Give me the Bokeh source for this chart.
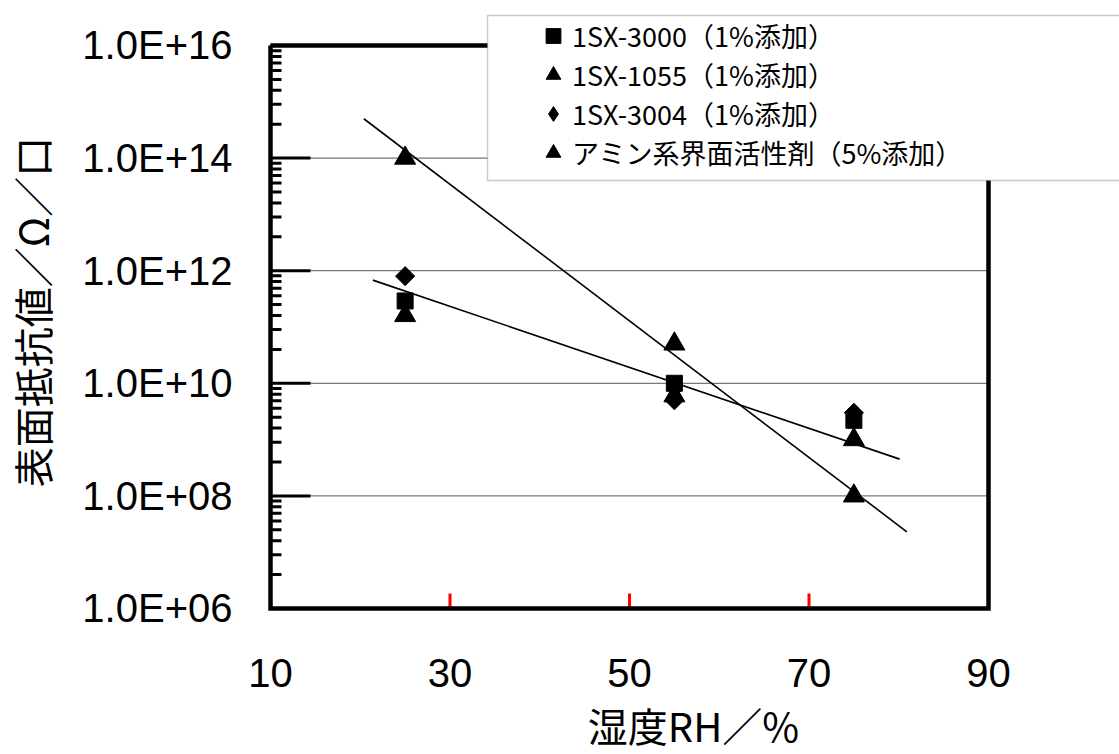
import math
from bokeh.plotting import figure
from bokeh.models import FixedTicker, Range1d, Legend, LegendItem, BoxAnnotation
from bokeh.embed import file_html
from bokeh.resources import INLINE

# ---- data ----
humidity = [25, 55, 75]
sx3000 = [2.9e11, 1.0e10, 2.2e9]
sx1055 = [1.6e11, 6.0e9, 1.0e9]
sx3004 = [8.0e11, 5.0e9, 3.0e9]
amine = [1.0e14, 5.0e10, 1.0e8]

series_names = ["1SX-3000（1%添加）", "1SX-1055（1%添加）", "1SX-3004（1%添加）", "アミン系界面活性剤（5%添加）"]

trend_steep_x = [20.4, 80.9]
trend_steep_y = [5.0e14, 2.3e7]
trend_flat_x = [21.4, 80.1]
trend_flat_y = [6.8e11, 4.5e8]

x_ticks = [10, 30, 50, 70, 90]
y_ticks = [1e6, 1e8, 1e10, 1e12, 1e14, 1e16]
y_tick_labels = ["1.0E+06", "1.0E+08", "1.0E+10", "1.0E+12", "1.0E+14", "1.0E+16"]

x_title = "湿度RH／%"
y_title = "表面抵抗値／Ω／口"

X_MIN, X_MAX = 10, 90
Y_MIN, Y_MAX = 1e6, 1e16

TICK_FONT = "Liberation Sans"
CJK_FONT = "Noto Sans CJK JP"

FRAME_W, FRAME_H = 852, 599
XR = (9.6657, 104.596)
YR_EXP = (5.94671, 16.5861)

p = figure(x_range=Range1d(*XR),
           y_range=Range1d(10 ** YR_EXP[0], 10 ** YR_EXP[1]), y_axis_type="log",
           frame_width=FRAME_W, frame_height=FRAME_H,
           min_border_left=267, min_border_right=0, min_border_top=12, min_border_bottom=143,
           output_backend="svg", toolbar_location=None)
p.background_fill_color = "white"
p.border_fill_color = "white"
p.outline_line_color = None
p.xgrid.visible = False
p.ygrid.visible = False

p.yaxis.ticker = FixedTicker(ticks=y_ticks, minor_ticks=[])
p.yaxis.major_label_overrides = {t: lab for t, lab in zip(y_ticks, y_tick_labels)}
p.xaxis.ticker = FixedTicker(ticks=x_ticks, minor_ticks=[])

for ax in (p.xaxis, p.yaxis):
    ax.axis_line_color = None
    ax.major_tick_line_color = None
    ax.minor_tick_line_color = None
    ax.major_tick_in = 0
    ax.major_tick_out = 0
    ax.minor_tick_in = 0
    ax.minor_tick_out = 0
    ax.major_label_text_font = TICK_FONT
    ax.major_label_text_font_size = "40px"
    ax.major_label_text_color = "black"
    ax.axis_label_text_font = CJK_FONT
    ax.axis_label_text_font_size = "40px"
    ax.axis_label_text_font_style = "normal"
    ax.axis_label_text_color = "black"

p.yaxis.major_label_standoff = 35
p.xaxis.major_label_standoff = 47
p.yaxis.axis_label = y_title
p.xaxis.axis_label = x_title
p.yaxis.axis_label_standoff = 18
p.xaxis.axis_label_standoff = 6

inner = y_ticks[1:-1]
p.segment(x0=[X_MIN] * len(inner), x1=[X_MAX] * len(inner), y0=inner, y1=inner,
          line_color="#555555", line_width=1)

p.line(trend_steep_x, trend_steep_y, line_color="black", line_width=1.6)
p.line(trend_flat_x, trend_flat_y, line_color="black", line_width=1.6)

r1 = p.scatter(humidity, sx1055, marker="triangle", size=21, color="black")
r4 = p.scatter(humidity, amine, marker="triangle", size=21, color="black")
r0 = p.scatter(humidity, sx3000, marker="square", size=16, color="black")
p.scatter(humidity, sx3004, marker="square", size=13.5, angle=math.pi / 4, color="black")
r2 = p.scatter(humidity, sx3004, marker="diamond", size=0, color="black")

px_per_x = FRAME_W / (XR[1] - XR[0])
px_per_dec = FRAME_H / (YR_EXP[1] - YR_EXP[0])
minor = []
for m in y_ticks[:-1]:
    for k in range(2, 10):
        minor.append(m * k * k)

# diagnostic: black long segments for major y ticks
p.segment(x0=[X_MIN] * len(y_ticks), x1=[X_MIN + 40 / px_per_x] * len(y_ticks), y0=y_ticks, y1=y_ticks,
          line_color="black", line_width=3)
# diagnostic: black filled rects for minor ticks (screen sized)
p.rect(x=[X_MIN + 5.5 / px_per_x] * len(minor), y=minor, width=11, height=3,
       width_units="screen", height_units="screen", fill_color="black", line_color=None)
# diagnostic: red short segments for x ticks
p.segment(x0=x_ticks, x1=x_ticks, y0=[Y_MIN] * len(x_ticks),
          y1=[Y_MIN * 10 ** (15 / px_per_dec)] * len(x_ticks), line_color="red", line_width=3)

p.line([X_MIN, X_MAX, X_MAX, X_MIN, X_MIN], [Y_MAX, Y_MAX, Y_MIN, Y_MIN, Y_MAX],
       line_color="black", line_width=4.5, line_join="miter")

box = BoxAnnotation(left=220, right=880, top=596, bottom=431,
                    left_units="screen", right_units="screen", top_units="screen", bottom_units="screen",
                    fill_color="white", fill_alpha=1.0, line_color="#555555", line_width=1.5)
p.add_layout(box)

legend = Legend(items=[LegendItem(label=series_names[0], renderers=[r0]),
                       LegendItem(label=series_names[1], renderers=[r1]),
                       LegendItem(label=series_names[2], renderers=[r2]),
                       LegendItem(label=series_names[3], renderers=[r4])],
                location=(267, 439.5), orientation="vertical",
                padding=0, margin=0, spacing=0,
                glyph_width=38, glyph_height=37, label_height=37, label_standoff=0,
                label_text_font=CJK_FONT, label_text_font_size="27px", label_text_color="black",
                background_fill_alpha=0.0, border_line_color=None)
p.add_layout(legend, "center")

open("out.html", "w").write(file_html(p, INLINE))
